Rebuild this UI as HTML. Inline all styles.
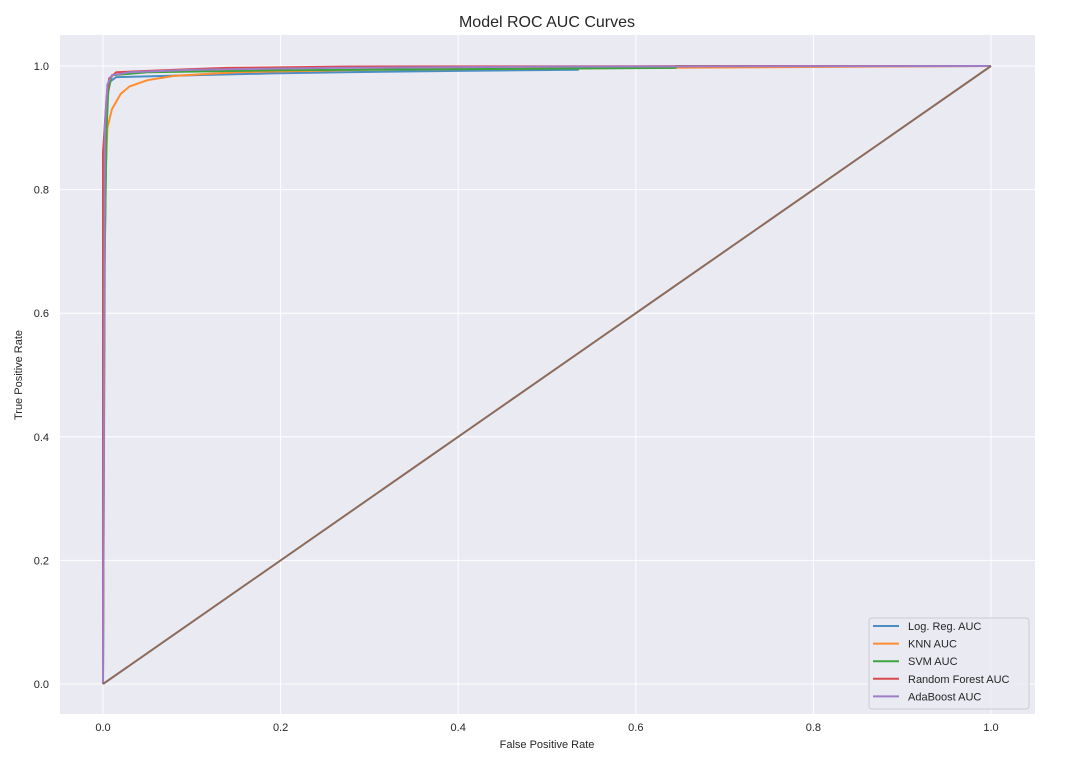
<!DOCTYPE html>
<html><head><meta charset="utf-8"><style>
body{margin:0;background:#fff;width:1082px;height:766px;overflow:hidden;font-family:"Liberation Sans",sans-serif}
</style></head><body>
<svg id="chart" width="1082" height="766" xmlns="http://www.w3.org/2000/svg" font-family="Liberation Sans, sans-serif">
<text x="547" y="27" text-anchor="middle" font-size="16" fill="#262626">Model ROC AUC Curves</text>
<rect x="60" y="35" width="975" height="679" fill="#eaeaf2"/>
<g id="grid"></g><g id="ticks"></g><g id="series"></g>
<text x="547" y="748" text-anchor="middle" font-size="11" fill="#262626">False Positive Rate</text>
<text transform="translate(22,375) rotate(-90)" text-anchor="middle" font-size="11" fill="#262626">True Positive Rate</text>
<g id="legend"></g>
</svg>
<script>
const ticks=[0,0.2,0.4,0.6,0.8,1.0];
const tickLabels=["0.0","0.2","0.4","0.6","0.8","1.0"];
const seriesNames=["Log. Reg. AUC","KNN AUC","SVM AUC","Random Forest AUC","AdaBoost AUC"];
const seriesColors=["#4c8dc4","#ff8c2e","#3ca63c","#d84a4a","#a07cc8"];
const logFpr=[0,0,0.003,0.005,0.008,0.015,0.1,0.19,0.27,0.4,0.535,0.535,1];
const logTpr=[0,0.5,0.82,0.95,0.975,0.982,0.985,0.988,0.99,0.992,0.994,0.998,1];
const knnFpr=[0,0.002,0.005,0.01,0.02,0.03,0.05,0.08,0.15,0.3,0.6,1];
const knnTpr=[0,0.8,0.9,0.93,0.955,0.967,0.977,0.984,0.99,0.994,0.997,1];
const svmFpr=[0,0.002,0.004,0.006,0.01,0.05,0.2,0.4,0.645,0.645,1];
const svmTpr=[0,0.7,0.9,0.96,0.985,0.99,0.993,0.995,0.997,1,1];
const rfFpr=[0,0,0.004,0.007,0.015,0.1,0.14,0.27,0.77,1];
const rfTpr=[0,0.86,0.95,0.98,0.99,0.995,0.997,0.999,1,1];
const adaFpr=[0,0.002,0.005,0.01,0.03,0.1,0.26,0.5,1];
const adaTpr=[0,0.9,0.97,0.985,0.99,0.994,0.997,0.999,1];
const diagFpr=[0,1];const diagTpr=[0,1];

const NS="http://www.w3.org/2000/svg";
const X=v=>103+v*888, Y=v=>684-v*618;
function mk(tag,parent,attrs){const e=document.createElementNS(NS,tag);for(const k in attrs)e.setAttribute(k,attrs[k]);parent.appendChild(e);return e;}
const grid=document.getElementById('grid'),tk=document.getElementById('ticks'),sg=document.getElementById('series'),lg=document.getElementById('legend');
ticks.forEach((t,i)=>{
 let g1=mk('line',grid,{x1:X(t),x2:X(t),y1:35,y2:714,stroke:'#fff','stroke-width':1});
 
 
 let g2=mk('line',grid,{x1:60,x2:1035,y1:Y(t),y2:Y(t),stroke:'#fff','stroke-width':1});
 
 
 let a=mk('text',tk,{x:X(t),y:731,'text-anchor':'middle','font-size':11,fill:'#262626'});a.textContent=tickLabels[i];
 
 
 let b=mk('text',tk,{x:49,y:Y(t)+4,'text-anchor':'end','font-size':11,fill:'#262626'});b.textContent=tickLabels[i];
 
 
});
const all=[[logFpr,logTpr],[knnFpr,knnTpr],[svmFpr,svmTpr],[rfFpr,rfTpr],[adaFpr,adaTpr]];
function path(fx,ty){return fx.map((v,i)=>(i?'L':'M')+X(v).toFixed(1)+','+Y(ty[i]).toFixed(1)).join('');}
all.forEach((s,i)=>{
 let p=mk('path',sg,{d:path(s[0],s[1]),fill:'none',stroke:seriesColors[i],'stroke-width':2,'stroke-linejoin':'round'});
 
 
});
let d=mk('path',sg,{d:path(diagFpr,diagTpr),fill:'none',stroke:'#8c6a5a','stroke-width':2});


mk('rect',lg,{x:869,y:618,width:160,height:91,rx:3,fill:'#eaeaf2','fill-opacity':0.8,stroke:'#ccc'});
seriesNames.forEach((n,i)=>{
 const y=626+i*17.6;
 let l=mk('line',lg,{x1:873,x2:899,y1:y,y2:y,stroke:seriesColors[i],'stroke-width':2});
 
 
 let t=mk('text',lg,{x:908,y:y+4,'font-size':11,fill:'#262626'});t.textContent=n;
 
 
});
</script>
</body></html>
